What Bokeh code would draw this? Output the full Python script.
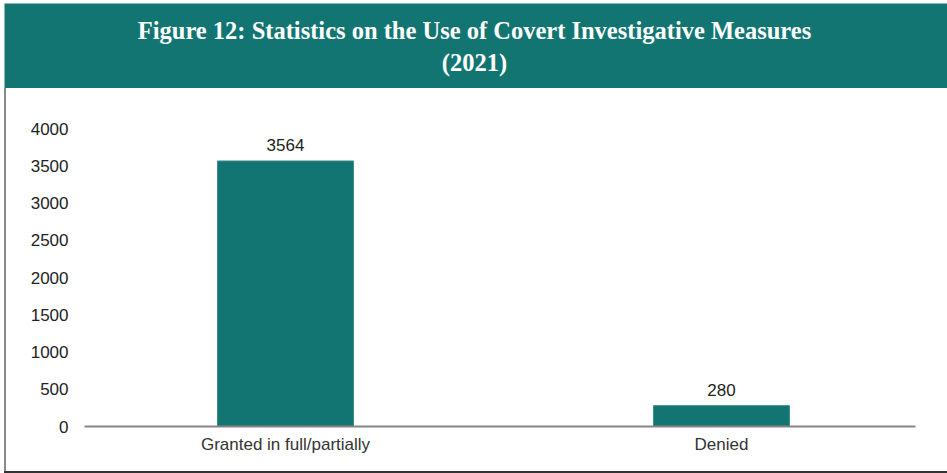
from bokeh.plotting import figure
from bokeh.layouts import column, row
from bokeh.models import Range1d, FixedTicker, Spacer
from bokeh.core.properties import value
from bokeh.embed import file_html
from bokeh.resources import INLINE

categories = ["Granted in full/partially", "Denied"]
counts = [3564, 280]
y_ticks = [0, 500, 1000, 1500, 2000, 2500, 3000, 3500, 4000]
title_lines = ["Figure 12: Statistics on the Use of Covert Investigative Measures", "(2021)"]

TEAL = "#137572"
W, H = 947, 473
HEAD_H = 88          # header strip height
MID_H = 383          # chart strip height
BOT_H = H - HEAD_H - MID_H
LB_W = 6             # left border strip width (4 px margin + 2 px line)

# ---- header strip ----
header = figure(width=W, height=HEAD_H, output_backend="svg", toolbar_location=None,
                x_range=Range1d(0, W), y_range=Range1d(HEAD_H, 0), min_border=0, title=None)
header.axis.visible = False
header.grid.visible = False
header.outline_line_color = None
header.border_fill_color = "white"
header.quad(left=[4], right=[W], top=[3], bottom=[HEAD_H], fill_color=TEAL, line_color=None)
header.text(x=[W / 2 + 0.5, W / 2 + 0.5], y=[30, 62], text=title_lines,
            text_align="center", text_baseline="middle",
            text_font=value("Liberation Serif"), text_font_style="bold",
            text_font_size="24.5px", text_color="white")

# ---- left border ----
left_line = Spacer(width=2, height=MID_H, margin=(0, 0, 0, 4),
                   styles={"background-color": "#8a8a8a"})

# ---- chart ----
CW = W - LB_W
FL, FR, FT, FB = 84 - LB_W, 915 - LB_W, 128 - HEAD_H, 426 - HEAD_H
p = figure(width=CW, height=MID_H, output_backend="svg", toolbar_location=None,
           x_range=Range1d(-0.461, 1.445), y_range=Range1d(0, 4000),
           min_border_left=FL, min_border_right=CW - FR,
           min_border_top=FT, min_border_bottom=MID_H - FB, title=None)
p.background_fill_color = "white"
p.border_fill_color = "white"
p.outline_line_color = None
p.xgrid.visible = False
p.ygrid.visible = False

xs = list(range(len(categories)))
p.vbar(x=xs, top=counts, width=0.312, fill_color=TEAL, line_color="#3c8f8c", line_width=1)
p.text(x=xs, y=counts, text=[str(v) for v in counts], text_align="center",
       text_baseline="bottom", y_offset=-10, text_font=value("Liberation Sans"),
       text_font_size="17px", text_color="#222222")

xa = p.xaxis[0]
xa.ticker = FixedTicker(ticks=xs)
xa.major_label_overrides = {i: c for i, c in zip(xs, categories)}
xa.axis_line_color = "#858585"
xa.axis_line_width = 2
xa.major_tick_line_color = None
xa.minor_tick_line_color = None
xa.major_label_standoff = 2
xa.major_label_text_font = "Liberation Sans"
xa.major_label_text_font_size = "17px"
xa.major_label_text_color = "#333333"

ya = p.yaxis[0]
ya.ticker = FixedTicker(ticks=y_ticks)
ya.axis_line_color = None
ya.major_tick_line_color = None
ya.minor_tick_line_color = None
ya.major_label_standoff = 10
ya.major_label_text_font = "Liberation Sans"
ya.major_label_text_font_size = "17px"
ya.major_label_text_color = "#222222"

# ---- bottom border ----
bottom_line = Spacer(width=W - 4, height=BOT_H, margin=(0, 0, 0, 4),
                     styles={"background-color": "#333333"})

layout = column(header, row(left_line, p, spacing=0), bottom_line, spacing=0)
open("out.html", "w").write(file_html(layout, INLINE))
